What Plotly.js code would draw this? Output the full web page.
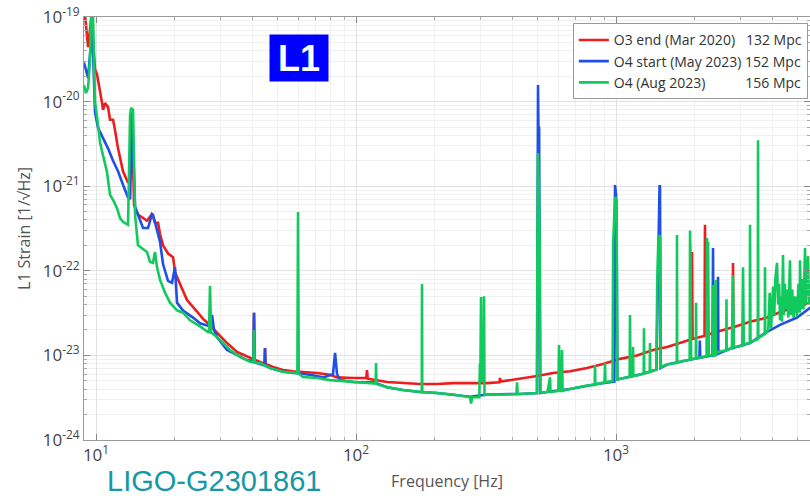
<!DOCTYPE html>
<html>
<head>
<meta charset="utf-8">
<script src="https://cdn.plot.ly/plotly-3.0.1.min.js"></script>
<style>html,body{margin:0;padding:0;background:#fff;}#chart{width:810px;height:496px;}</style>
</head>
<body>
<div id="chart"></div>
<script>
// ---- Data (frequency in Hz, strain in 1/sqrt(Hz)) ----
const seriesNames = [
  'O3 end (Mar 2020)\u00a0\u00a0\u00a0132 Mpc',
  'O4 start (May 2023) 152 Mpc',
  'O4 (Aug 2023)\u00a0\u00a0\u00a0\u00a0\u00a0\u00a0\u00a0\u00a0\u00a0\u00a0\u00a0156 Mpc'
];

const freqO3 = [8.99, 9.32, 9.57, 9.74, 9.91, 10.09, 10.55, 10.64, 10.83, 11.12,
  11.32, 11.63, 11.83, 12.15, 12.70, 13.28, 13.52, 13.76, 14.00, 14.50,
  15.03, 15.71, 16.42, 16.86, 17.32, 17.63, 18.10, 18.92, 19.78, 20.13,
  21.04, 22.39, 24.46, 25.79, 26.96, 29.20, 31.90, 34.85, 38.08, 39.81,
  40.3, 40.52, 40.75, 43.88, 44.5, 44.67, 44.85, 47.96, 52.39, 57.23,
  62.55, 70.79, 79.43, 84.53, 97.38, 109.5, 110.2, 110.9, 131.6, 151.6,
  176.3, 204.9, 236.1, 274.5, 319.0, 356, 357.9, 360, 427.4, 496.8,
  572.4, 665.5, 773.5, 891.3, 1036, 1204, 1388, 1572, 1810, 1950,
  1960, 1970, 2104, 2190, 2199, 2210, 2446, 2810, 2818, 2826,
  3277, 3809, 4388, 5102, 5673];
const strainO3 = [1.4e-19, 4.4e-20, 9.2e-20, 5.3e-20, 2.4e-20, 2.1e-20, 9.6e-21, 8.0e-21, 9.6e-21, 8.6e-21,
  6.1e-21, 6.1e-21, 4.6e-21, 2.8e-21, 1.5e-21, 1.1e-21, 1.2e-21, 7.5e-21, 6.0e-22, 4.6e-22,
  4.3e-22, 3.9e-22, 4.7e-22, 3.7e-22, 3.7e-22, 2.7e-22, 2.0e-22, 1.6e-22, 1.45e-22, 9.7e-23,
  7.0e-23, 4.5e-23, 3.3e-23, 2.7e-23, 2.4e-23, 1.84e-23, 1.4e-23, 1.1e-23, 9.6e-24, 9.1e-24,
  9.0e-24, 3.2e-23, 8.9e-24, 8.1e-24, 8.0e-24, 1.22e-23, 7.9e-24, 7.3e-24, 6.7e-24, 6.5e-24,
  6.4e-24, 6.2e-24, 5.9e-24, 5.5e-24, 5.4e-24, 5.4e-24, 6.7e-24, 5.3e-24, 4.85e-24, 4.7e-24,
  4.6e-24, 4.6e-24, 4.7e-24, 4.7e-24, 4.7e-24, 4.8e-24, 5.4e-24, 4.9e-24, 5.3e-24, 5.7e-24,
  6.2e-24, 6.5e-24, 7.1e-24, 7.9e-24, 9.1e-24, 1.0e-23, 1.16e-23, 1.26e-23, 1.44e-23, 1.55e-23,
  1.67e-22, 1.56e-23, 1.65e-23, 1.7e-23, 3.5e-22, 1.72e-23, 1.9e-23, 2.15e-23, 1.24e-22, 2.15e-23,
  2.5e-23, 2.8e-23, 3.35e-23, 3.8e-23, 4.3e-23];

const freqO4s = [8.99, 9.32, 9.57, 9.65, 9.74, 9.91, 10.18, 10.64, 11.12, 11.63,
  12.15, 12.70, 13.28, 13.52, 13.76, 14.13, 14.50, 15.16, 15.85, 16.42,
  16.56, 17.16, 17.63, 18.10, 18.92, 19.60, 20.13, 20.49, 21.61, 23.61,
  25.12, 27.44, 27.94, 28.43, 29.20, 31.90, 34.85, 38.08, 40.3, 40.52,
  40.75, 41.61, 44.5, 44.67, 44.85, 46.70, 52.39, 59.30, 66.54, 74.65,
  81.56, 83.05, 84.53, 86.81, 97.38, 117.0, 131.6, 151.6, 176.3, 204.9,
  236.1, 274.5, 319.0, 367.6, 427.4, 496.8, 499.5, 501.2, 503, 506,
  508, 511, 557.4, 665.5, 845.2, 985, 991.3, 1000, 1005, 1012,
  1132, 1281, 1430, 1455, 1470, 1476, 1480, 1485, 1572, 1810,
  2049, 2095, 2100, 2110, 2350, 2361, 2372, 2460, 2468, 2476,
  2745, 3277, 3809, 4274, 4968, 5673];
const strainO4s = [2.9e-20, 1.9e-20, 5e-20, 8.0e-20, 4e-20, 7.5e-21, 4.9e-21, 3.7e-21, 2.8e-21, 2.0e-21,
  1.5e-21, 1.04e-21, 7.3e-22, 7.0e-22, 6.9e-21, 5.7e-22, 4.6e-22, 3.2e-22, 3.2e-22, 4.7e-22,
  4.6e-22, 2.9e-22, 2.2e-22, 1.2e-22, 7.6e-23, 7.2e-23, 1.1e-22, 4.2e-23, 3.4e-23, 2.8e-23,
  2.4e-23, 2.2e-23, 3.0e-23, 2.0e-23, 1.65e-23, 1.16e-23, 1.0e-23, 8.8e-24, 8.5e-24, 3.2e-23,
  8.4e-24, 8.1e-24, 7.6e-24, 1.22e-23, 7.5e-24, 7.1e-24, 6.4e-24, 6.1e-24, 5.9e-24, 5.5e-24,
  6.0e-24, 1.07e-23, 6.0e-24, 5.1e-24, 4.85e-24, 4.8e-24, 4.2e-24, 3.9e-24, 3.7e-24, 3.6e-24,
  3.45e-24, 3.25e-24, 3.45e-24, 3.45e-24, 3.5e-24, 3.6e-24, 1.0e-21, 1.57e-20, 4.9e-21, 4.9e-21,
  8e-22, 3.6e-24, 3.75e-24, 4.0e-24, 4.6e-24, 4.9e-24, 1.03e-21, 8e-22, 4e-22, 5.2e-24,
  5.6e-24, 6.1e-24, 6.8e-24, 2.4e-22, 1.0e-21, 1.0e-21, 3e-22, 7.1e-24, 7.8e-24, 8.6e-24,
  9.3e-24, 9.4e-24, 1.5e-23, 9.4e-24, 1.0e-23, 1.86e-22, 1.0e-23, 1.05e-23, 8.5e-23, 1.05e-23,
  1.2e-23, 1.4e-23, 1.9e-23, 2.3e-23, 2.8e-23, 3.8e-23];

const freqO4a = [8.99, 9.15, 9.32, 9.48, 9.57, 9.65, 9.74, 9.83, 9.91, 10.18,
  10.36, 10.64, 11.02, 11.32, 11.63, 12.04, 12.37, 12.70, 13.28, 13.52,
  13.64, 13.88, 14.13, 14.50, 15.03, 15.71, 16.13, 16.56, 16.86, 17.16,
  17.63, 18.43, 19.26, 20.49, 21.61, 22.99, 25.12, 26.73, 27.2, 27.44,
  27.7, 28.18, 29.99, 32.76, 35.79, 39.11, 40.3, 40.52, 40.75, 42.73,
  46.70, 52.39, 57.23, 59.5, 59.84, 60.2, 62.55, 70.79, 79.43, 97.38,
  113.2, 119.0, 119.4, 119.8, 131.6, 151.6, 176.3, 179.0, 179.4, 179.8,
  204.9, 236.1, 274.5, 276.9, 280, 298, 299.5, 301, 302.6, 304,
  309.5, 310.7, 312, 319.0, 367.6, 414, 416.2, 418.5, 427.4, 496.8,
  498, 501.2, 505.6, 508.5, 512, 545, 557.4, 560, 600, 603.6,
  607, 616, 619.8, 623, 665.5, 773.5, 828, 830.4, 833, 845.2,
  903, 907.3, 911, 970, 975, 991.3, 1005, 1012, 1036, 1128,
  1132, 1136, 1160, 1163, 1166, 1204, 1278, 1281, 1284, 1348,
  1351, 1354, 1388, 1430, 1440, 1455, 1476, 1485, 1516, 1572,
  1713, 1716, 1719, 1810, 1920, 1926, 1935, 1945, 2029, 2032,
  2036, 2230, 2239, 2250, 2260, 2275,
  2355, 2361, 2367, 2410, 2415, 2420, 2468, 2600, 2655, 2660,
  2665, 2745, 2790, 2818, 2840, 3060, 3080, 3100, 3270, 3277,
  3290, 3510, 3518, 3526, 3677, 3735, 3742, 3750, 3809, 3850,
  3900, 3950, 4020, 4060, 4100, 4161, 4200, 4240, 4274, 4320,
  4350, 4388, 4420, 4460, 4500, 4550, 4600, 4668, 4700, 4760,
  4820, 4880, 4968, 5030, 5090, 5102, 5140, 5200, 5260, 5333,
  5360, 5420, 5477, 5520, 5574, 5673];
const strainO4a = [1.57e-20, 1.26e-20, 1.45e-20, 3.1e-20, 1.0e-19, 1.3e-19, 1.0e-19, 3.1e-20, 1.0e-20, 5.3e-21,
  3.3e-21, 2.3e-21, 1.47e-21, 7.9e-22, 6.9e-22, 5.5e-22, 4.2e-22, 3.8e-22, 3.5e-22, 6.9e-21,
  8.4e-21, 8.0e-21, 4.6e-22, 2.0e-22, 1.86e-22, 1.67e-22, 1.27e-22, 1.24e-22, 1.67e-22, 1.1e-22,
  7.8e-23, 5.5e-23, 4.2e-23, 3.4e-23, 3.2e-23, 2.6e-23, 2.2e-23, 1.9e-23, 1.85e-23, 6.6e-23,
  1.85e-23, 1.8e-23, 1.52e-23, 1.16e-23, 9.6e-24, 8.4e-24, 8.3e-24, 2.0e-23, 8.2e-24, 8.1e-24,
  7.1e-24, 6.4e-24, 6.2e-24, 6.2e-24, 4.96e-22, 6.1e-24, 5.55e-24, 5.4e-24, 5.1e-24, 4.85e-24,
  4.7e-24, 4.65e-24, 8.1e-24, 4.6e-24, 4.2e-24, 3.9e-24, 3.7e-24, 3.7e-24, 7.0e-23, 3.7e-24,
  3.6e-24, 3.45e-24, 3.2e-24, 2.7e-24, 3.2e-24, 3.2e-24, 7.7e-24, 7.7e-24, 4.9e-23, 5e-24,
  5e-24, 5.0e-23, 3.4e-24, 3.45e-24, 3.45e-24, 3.5e-24, 4.8e-24, 3.5e-24, 3.5e-24, 3.6e-24,
  1.0e-22, 2.47e-21, 7.45e-22, 2.5e-22, 3.6e-24, 3.7e-24, 5.5e-24, 3.7e-24, 3.8e-24, 1.33e-23,
  3.8e-24, 3.8e-24, 1.16e-23, 3.8e-24, 4.0e-24, 4.4e-24, 4.5e-24, 7.7e-24, 4.5e-24, 4.6e-24,
  4.8e-24, 8.1e-24, 4.8e-24, 5.0e-24, 2.1e-22, 7.45e-22, 7.0e-22, 5.2e-24, 5.3e-24, 5.6e-24,
  3.0e-23, 5.6e-24, 5.7e-24, 1.26e-23, 5.7e-24, 5.8e-24, 6.1e-24, 2.1e-23, 6.1e-24, 6.4e-24,
  1.4e-23, 6.4e-24, 6.6e-24, 6.8e-24, 6.8e-23, 2.4e-22, 2.65e-22, 7.1e-24, 7.5e-24, 7.8e-24,
  8.2e-24, 2.65e-22, 8.2e-24, 8.6e-24, 8.9e-24, 3.0e-22, 1.33e-22, 9.0e-24, 9.2e-24, 4.2e-23,
  9.2e-24, 9.8e-24, 2.44e-22, 1.2e-22, 2.2e-22, 1.0e-23,
  1.0e-23, 6.8e-23, 1.0e-23, 1.0e-23, 7.8e-23, 1.05e-23, 1.1e-23, 1.12e-23, 1.15e-23, 4.6e-23,
  1.15e-23, 1.2e-23, 1.2e-23, 8.9e-23, 1.25e-23, 1.3e-23, 1.1e-22, 1.35e-23, 1.4e-23, 3.5e-22,
  1.45e-23, 1.55e-23, 3.5e-21, 1.6e-23, 1.74e-23, 1.8e-23, 1.1e-22, 1.8e-23, 1.9e-23, 2.0e-23,
  5.5e-23, 2.1e-23, 6.5e-23, 3.0e-23, 8e-23, 1.24e-22, 4e-23, 7e-23, 2.6e-23, 5e-23,
  2.5e-23, 1.54e-22, 3e-23, 7e-23, 3.5e-23, 6e-23, 2.8e-23, 1.33e-22, 3e-23, 6e-23,
  2.8e-23, 5e-23, 2.9e-23, 7e-23, 3.2e-23, 1.33e-22, 3.5e-23, 8e-23, 3.5e-23, 1.86e-22,
  4e-23, 9e-23, 1.5e-22, 4e-23, 7e-23, 4e-23];

const xTickVals = [10, 100, 1000];
const xTickText = ['10<sup>1</sup>', '10<sup>2</sup>', '10<sup>3</sup>'];
const yTickVals = [1e-24, 1e-23, 1e-22, 1e-21, 1e-20, 1e-19];
const yTickText = ['10<sup>-24</sup>', '10<sup>-23</sup>', '10<sup>-22</sup>', '10<sup>-21</sup>', '10<sup>-20</sup>', '10<sup>-19</sup>'];

// minor tick positions (2..9 within each decade)
const xMinor = [9];
[10, 100, 1000].forEach(d => { for (let m = 2; m <= 9; m++) xMinor.push(m * d); });
const yMinor = [];
[1e-24, 1e-23, 1e-22, 1e-21, 1e-20].forEach(d => { for (let m = 2; m <= 9; m++) yMinor.push(m * d); });

const colors = ['#ee1d1d', '#1f4fe6', '#12c95e'];

const traces = [
  {x: freqO3, y: strainO3, name: seriesNames[0]},
  {x: freqO4s, y: strainO4s, name: seriesNames[1]},
  {x: freqO4a, y: strainO4a, name: seriesNames[2]}
].map((t, i) => Object.assign(t, {
  type: 'scatter', mode: 'lines', hoverinfo: 'skip',
  line: {color: colors[i], width: 2.6}
}));

const layout = {
  width: 810, height: 496,
  margin: {l: 84, r: 0, t: 17, b: 56},
  paper_bgcolor: '#ffffff', plot_bgcolor: '#ffffff',
  font: {family: '"Open Sans", "DejaVu Sans", sans-serif', color: '#444'},
  showlegend: true,
  legend: {
    x: 0.997, xanchor: 'right', y: 0.985, yanchor: 'top',
    bgcolor: '#ffffff', bordercolor: '#9a9a9a', borderwidth: 1,
    font: {size: 14, color: '#333'}, tracegroupgap: 0,
    itemwidth: 30
  },
  xaxis: {
    type: 'log', range: [Math.log10(8.99), 3.7461],
    tickmode: 'array', tickvals: xTickVals, ticktext: xTickText,
    ticks: 'inside', ticklen: 6, tickcolor: '#888', tickwidth: 1,
    showline: true, linecolor: '#9a9a9a', linewidth: 1, mirror: 'ticks',
    showgrid: true, gridcolor: '#e2e2e2', gridwidth: 1, zeroline: false,
    tickfont: {size: 17, color: '#444'},
    title: {text: 'Frequency [Hz]', font: {size: 16, color: '#555'}, standoff: 10},
    minor: {tickmode: 'array', tickvals: xMinor, ticks: 'inside', ticklen: 3, tickcolor: '#aaa',
            showgrid: true, gridcolor: '#f0f0f0', gridwidth: 1}
  },
  yaxis: {
    type: 'log', range: [-24, -19],
    tickmode: 'array', tickvals: yTickVals, ticktext: yTickText,
    ticks: 'inside', ticklen: 6, tickcolor: '#888', tickwidth: 1,
    showline: true, linecolor: '#9a9a9a', linewidth: 1, mirror: 'ticks',
    showgrid: true, gridcolor: '#e2e2e2', gridwidth: 1, zeroline: false,
    tickfont: {size: 17, color: '#444'},
    title: {text: 'L1 Strain [1/√Hz]', font: {size: 16, color: '#555'}, standoff: 8},
    minor: {tickmode: 'array', tickvals: yMinor, ticks: 'inside', ticklen: 3, tickcolor: '#aaa',
            showgrid: true, gridcolor: '#f0f0f0', gridwidth: 1}
  },
  annotations: [
    {
      text: '<b>L1</b>', xref: 'paper', yref: 'paper', x: 0.296, y: 0.903,
      xanchor: 'center', yanchor: 'middle', showarrow: false,
      bgcolor: '#0000ff', width: 58, height: 46, borderpad: 0,
      font: {family: '"Liberation Sans", Arial, sans-serif', size: 36, color: '#ffffff'}
    },
    {
      text: 'LIGO-G2301861', xref: 'paper', yref: 'paper', x: 0.029, y: -0.097,
      xanchor: 'left', yanchor: 'middle', showarrow: false,
      font: {family: '"Liberation Sans", Arial, sans-serif', size: 29, color: '#1597a4'}
    }
  ]
};

Plotly.newPlot('chart', traces, layout, {displayModeBar: false, staticPlot: true});
</script>
</body>
</html>
